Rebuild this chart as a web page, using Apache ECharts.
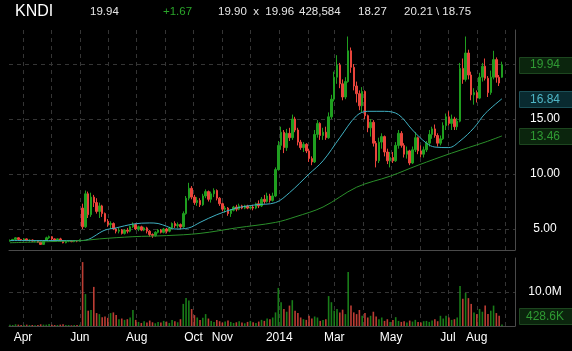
<!DOCTYPE html>
<html><head><meta charset="utf-8">
<script src="https://cdn.jsdelivr.net/npm/echarts@6/dist/echarts.min.js"></script>
<style>html,body{margin:0;padding:0;background:#000;}#c{width:572px;height:351px;}</style>
</head><body><div id="c"></div>
<script>
// ---------- DATA ----------
const axisStart = [2013, 2, 17];   // first calendar day on the axis (UTC y, m0, d)
const axisEnd = [2014, 8, 11];     // last calendar day on the axis
const candleOffsetDays = 1;        // first candle = 2013-03-18
const candleStepDays = 3;          // one candle every 3 calendar days

// [open, close, low, high]
const candles = [
[3.9,3.95,3.85,4.05],[3.95,4.05,3.9,4.1],[4.05,4.2,4.0,4.25],[4.2,4.05,4.0,4.25],[4.05,4.0,3.9,4.1],
[4.0,4.1,3.95,4.15],[4.1,3.95,3.9,4.15],[3.95,4.0,3.85,4.05],[4.0,3.9,3.85,4.05],[3.9,3.95,3.8,4.0],
[3.95,3.8,3.75,4.0],[3.8,3.6,3.55,3.85],[3.6,3.95,3.6,4.0],[3.95,4.2,3.9,4.3],[4.2,4.3,4.1,4.4],
[4.3,4.1,4.0,4.35],[4.1,4.0,3.9,4.15],[4.0,4.1,3.95,4.15],[4.1,3.95,3.85,4.2],[3.95,3.75,3.7,4.0],
[3.75,3.9,3.7,3.95],[3.9,3.95,3.8,4.0],[3.95,3.85,3.8,4.0],[3.85,3.95,3.8,4.0],[3.95,3.9,3.8,4.0],
[3.9,4.0,3.85,4.05],
[6.9,5.2,5.0,7.3],[5.2,8.2,5.1,8.5],[8.2,6.3,6.0,8.4],[6.3,7.9,6.1,8.3],[7.9,7.4,7.0,8.1],
[7.4,6.6,6.4,7.8],[6.6,7.1,6.0,7.4],[7.1,6.4,6.1,7.2],[6.4,5.7,5.6,6.5],[5.7,5.4,5.2,5.9],
[5.4,5.5,5.0,5.7],[5.5,5.0,4.9,5.6],[5.0,4.8,4.6,5.1],[4.8,4.9,4.6,5.1],[4.9,4.6,4.5,5.0],
[4.6,4.9,4.5,5.0],[4.9,4.8,4.6,5.1],[4.8,5.2,4.7,5.3],[5.2,5.4,5.1,5.6],[5.4,5.0,4.9,5.5],
[5.0,5.2,4.8,5.3],[5.2,4.9,4.8,5.3],[4.9,5.1,4.8,5.2],[5.1,4.8,4.6,5.2],[4.8,4.5,4.3,4.9],
[4.5,4.4,4.2,4.6],[4.4,4.7,4.3,4.8],[4.7,4.9,4.6,5.0],[4.9,4.7,4.6,5.0],[4.7,5.0,4.6,5.1],
[5.0,4.8,4.6,5.1],[4.8,5.1,4.7,5.2],[5.1,5.5,5.0,5.6],[5.5,5.3,5.1,5.7],[5.3,5.4,5.1,5.6],
[5.4,5.2,5.0,5.5],[5.2,6.4,5.1,6.6],[6.4,7.8,6.3,8.0],[7.8,8.7,7.6,9.2],[8.7,7.9,7.7,8.9],
[7.9,7.4,7.2,8.1],[7.4,7.6,7.1,7.9],[7.6,7.2,7.0,7.8],[7.2,8.0,7.1,8.2],[8.0,8.4,7.8,8.6],
[8.4,7.7,7.5,8.5],[7.7,8.2,7.4,8.4],[8.2,8.5,7.9,8.7],[8.5,7.8,7.6,8.6],[7.8,7.3,7.1,7.9],
[7.3,6.8,6.6,7.4],[6.8,6.9,6.5,7.1],[6.9,6.4,6.2,7.0],[6.4,6.7,6.1,6.8],[6.7,7.0,6.6,7.1],
[7.0,6.8,6.6,7.2],[6.8,7.1,6.7,7.3],[7.1,6.9,6.8,7.2],[6.9,7.1,6.8,7.2],[7.1,6.9,6.8,7.2],
[6.9,7.0,6.8,7.1],[7.0,6.9,6.7,7.2],[6.9,7.3,6.8,7.4],[7.3,7.1,6.9,7.6],[7.1,7.7,7.0,7.9],
[7.7,7.5,7.3,8.1],[7.5,8.0,7.4,8.3],[8.0,7.6,7.4,8.2],[7.6,8.0,7.5,8.3],[8.0,10.4,7.9,10.6],
[10.4,12.6,10.3,13.0],[12.6,13.8,12.2,14.3],[13.8,12.4,11.9,14.0],[12.4,13.7,12.1,14.1],[13.7,13.3,13.0,14.2],
[13.3,15.0,13.1,15.4],[15.0,14.0,13.8,15.2],[14.0,12.9,12.6,14.2],[12.9,12.4,12.2,13.1],[12.4,12.7,12.0,12.9],
[12.7,12.1,11.9,12.8],[12.1,11.4,11.1,12.3],[11.4,11.1,10.8,11.6],[11.1,13.6,11.0,14.0],[13.6,14.6,13.3,14.9],
[14.6,13.5,13.1,14.7],[13.5,13.8,13.1,14.2],[13.8,13.3,13.1,14.3],[13.3,15.2,13.2,15.6],[15.2,16.8,15.0,17.2],
[16.8,18.8,16.6,19.3],[18.8,19.9,18.2,20.8],[19.9,18.2,17.8,20.1],[18.2,17.0,16.7,18.6],[17.0,18.4,16.8,18.8],
[18.4,21.2,18.3,22.5],[21.2,19.7,19.2,21.5],[19.7,18.0,17.6,20.0],[18.0,17.3,16.5,18.4],[17.3,16.2,15.8,17.6],
[16.2,17.5,15.6,17.9],[17.5,15.3,15.0,17.6],[15.3,14.2,13.8,15.4],[14.2,14.7,13.4,15.0],[14.7,12.8,12.5,14.9],
[12.8,11.2,10.6,13.0],[11.2,12.9,11.0,13.3],[12.9,13.4,12.3,13.7],[13.4,12.0,11.6,13.5],[12.0,11.2,10.9,12.3],
[11.2,11.5,10.6,12.0],[11.5,11.2,11.0,12.0],[11.2,12.6,11.1,12.9],[12.6,13.7,12.3,14.0],[13.7,12.6,12.4,13.9],
[12.6,11.8,11.5,12.8],[11.8,12.1,11.4,12.5],[12.1,11.0,10.8,12.2],[11.0,12.2,10.9,12.5],[12.2,13.3,12.0,13.8],
[13.3,12.1,11.8,13.4],[12.1,11.8,11.5,12.6],[11.8,12.2,11.5,12.5],[12.2,12.8,12.0,13.0],[12.8,13.6,12.5,14.0],
[13.6,14.1,13.2,14.3],[14.1,13.5,13.3,14.5],[13.5,12.8,12.5,13.7],[12.8,13.2,12.6,13.5],[13.2,14.4,13.1,14.7],
[14.4,15.2,14.0,15.5],[15.2,14.6,14.4,15.7],[14.6,15.0,14.0,15.4],[15.0,14.3,14.0,15.2],[14.3,14.8,14.0,15.1],
[14.8,19.6,14.7,20.1],[19.6,18.6,18.2,20.5],[18.6,21.0,18.4,22.5],[21.0,19.0,18.6,21.3],[19.0,17.2,16.7,19.3],
[17.2,17.4,16.3,17.8],[17.4,16.9,16.5,17.6],[16.9,18.8,16.8,19.2],[18.8,19.8,18.4,20.1],[19.8,18.7,18.5,20.5],
[18.7,17.4,17.0,18.9],[17.4,18.8,17.2,19.4],[18.8,20.4,18.6,21.2],[20.4,18.8,18.3,20.6],[18.8,18.27,18.0,19.0],
[18.8,19.94,18.75,20.21]
];

// volume in millions, one per candle
const volumes = [
0.4,0.3,0.5,0.4,0.3,0.3,0.4,0.3,0.3,0.2,0.3,0.5,0.4,0.4,0.6,0.4,0.3,0.3,0.4,0.5,0.3,0.3,0.2,0.3,0.3,0.4,
18.8,9.4,4.5,4.7,11.5,3.8,3.5,2.6,2.8,2.4,3.8,4.0,3.2,2.0,2.2,1.8,2.0,2.5,4.7,1.8,
1.2,0.9,1.4,1.0,1.6,1.1,0.8,1.2,1.0,1.5,1.3,0.9,1.8,1.4,1.1,
2.0,6.5,8.2,7.5,5.0,3.2,2.5,
1.8,2.4,3.5,2.2,1.5,1.2,1.8,1.4,1.0,1.3,1.6,1.2,0.9,1.1,1.4,1.0,0.8,1.2,1.5,1.1,0.9,1.3,1.8,1.5,
2.2,2.0,2.5,
4.0,11.2,7.0,5.0,4.2,6.0,7.6,4.5,3.8,2.5,2.0,1.8,3.0,2.2,2.8,2.5,1.5,1.8,2.0,8.8,
7.0,4.5,5.0,4.0,4.8,3.5,15.9,6.0,4.0,3.5,4.7,3.0,3.8,2.5,3.0,4.2,2.8,2.0,2.5,1.5,
2.0,1.2,1.8,2.6,1.5,1.2,1.4,1.0,1.6,1.3,1.8,1.2,1.0,1.4,1.5,1.2,1.6,2.0,1.4,3.0,
2.2,3.0,2.5,1.8,2.0,2.5,11.8,8.0,9.7,8.2,6.5,4.0,3.5,5.0,4.2,6.0,3.5,4.5,6.0,3.8,
3.0,0.428584
];

// moving averages: [candle index, value]
const ma50 = [[0,3.95],[26,3.95],[34,4.9],[38,5.1],[44,5.45],[50,5.55],[53,5.5],[56,5.25],[59,5.0],[64,5.1],
[68,5.6],[74,6.3],[81,6.9],[88,7.2],[95,7.4],[100,8.3],[107,10.0],[112,11.2],[118,13.3],[124,15.3],
[128,15.7],[134,15.7],[139,15.4],[144,14.0],[149,12.8],[152,12.45],[157,12.4],[161,13.0],[166,14.2],[170,15.5],[176,16.84]];
const ma200 = [[0,3.75],[14,3.85],[26,3.95],[32,4.1],[44,4.3],[56,4.4],[68,4.6],[81,5.1],[95,5.6],[102,6.1],
[112,7.0],[124,8.8],[136,9.8],[146,10.8],[158,11.9],[170,12.9],[176,13.46]];

const labelMonths = ['2013-04','2013-06','2013-08','2013-10','2013-11','2014-01','2014-03','2014-05','2014-07','2014-08'];
const labelTexts  = ['Apr','Jun','Aug','Oct','Nov','2014','Mar','May','Jul','Aug'];
const priceTicks = [5, 10, 15];
const volumeTicks = [10];

const headerTexts = ['KNDI','19.94','+1.67','19.90  x  19.96','428,584','18.27','20.21 \\ 18.75'];
const lastClose = 19.94, lastMa50 = 16.84, lastMa200 = 13.46, lastVolumeLabel = '428.6K';

// ---------- BUILD ----------
const days = [];
for (let t = Date.UTC(...axisStart); t <= Date.UTC(...axisEnd); t += 86400000) days.push(new Date(t).toISOString().slice(0,10));
const kOf = i => candleOffsetDays + candleStepDays * i;
const UP = '#1f9e1f', DOWN = '#ea453c';
const VUP = '#1c8a1c', VDOWN = '#d0443a';
const candleData = days.map(() => '-');
const volData = days.map(() => '-');
candles.forEach((c, i) => { candleData[kOf(i)] = c; });
volumes.forEach((v, i) => {
  const c = candles[i];
  volData[kOf(i)] = { value: v, itemStyle: { color: c[1] >= c[0] ? VUP : VDOWN } };
});
const f50 = days.map(() => null), f200 = days.map(() => null);
ma50.forEach(([i, v]) => { f50[kOf(i)] = v; });
ma200.forEach(([i, v]) => { f200[kOf(i)] = v; });

const labelMap = {};
labelMonths.forEach((m, j) => labelMap[m + '-01'] = labelTexts[j]);
const isMonthStart = (idx, val) => val.slice(8) === '01';

const GRID = '#353535', AXIS = '#4a4a4a';
const FONT = 'Liberation Sans, Arial, sans-serif';
const LABEL_CX = 545;
const chart = echarts.init(document.getElementById('c'), null, { renderer: 'canvas' });

const xCommon = {
  type: 'category', data: days, boundaryGap: false,
  axisTick: { show: false },
  axisLine: { show: true, lineStyle: { color: AXIS, width: 1 } },
  splitLine: { show: true, interval: isMonthStart, lineStyle: { color: GRID, type: [4, 4], width: 1 } }
};

chart.setOption({
  animation: false,
  backgroundColor: '#000',
  grid: [
    { left: 9, right: 57, top: 30, height: 220 },
    { left: 9, right: 57, top: 258, height: 68 }
  ],
  xAxis: [
    Object.assign({}, xCommon, { gridIndex: 0, axisLabel: { show: false } }),
    Object.assign({}, xCommon, { gridIndex: 1,
      axisLabel: { show: true, interval: (idx, val) => !!labelMap[val], formatter: v => labelMap[v] || '',
        color: '#ffffff', fontSize: 12, fontFamily: FONT, margin: 6 } })
  ],
  yAxis: [
    { type: 'value', gridIndex: 0, position: 'right', min: 5 - 21/11, max: 5 + 199/11,
      splitNumber: 4, minInterval: 5, maxInterval: 5,
      axisLine: { show: true, lineStyle: { color: AXIS } }, axisTick: { show: false },
      splitLine: { show: true, showMinLine: false, showMaxLine: false, lineStyle: { color: GRID, type: [4, 4] } },
      axisLabel: { show: true, showMinLabel: false, showMaxLabel: false, margin: LABEL_CX - 515, align: 'center',
        color: '#ffffff', fontSize: 12, fontFamily: FONT, padding: [3, 0, 0, 0],
        formatter: v => priceTicks.some(t => Math.abs(t - v) < 1e-6) ? v.toFixed(2) : '' } },
    { type: 'value', gridIndex: 1, position: 'right', min: 0, max: 20, interval: 10,
      axisLine: { show: true, lineStyle: { color: AXIS } }, axisTick: { show: false },
      splitLine: { show: true, showMinLine: false, showMaxLine: false, lineStyle: { color: GRID, type: [4, 4] } },
      axisLabel: { show: true, margin: LABEL_CX - 515, align: 'center', color: '#ffffff', fontSize: 12, fontFamily: FONT,
        formatter: v => volumeTicks.some(t => Math.abs(t - v) < 1e-6) ? v.toFixed(1) + 'M' : '' } }
  ],
  series: [
    { type: 'candlestick', xAxisIndex: 0, yAxisIndex: 0, data: candleData, barWidth: 2, z: 3,
      itemStyle: { color: UP, color0: DOWN, borderColor: UP, borderColor0: DOWN, borderWidth: 1 } },
    { type: 'line', xAxisIndex: 0, yAxisIndex: 0, data: f50, connectNulls: true, smooth: 0.35, symbol: 'none', z: 4,
      lineStyle: { color: '#3fb0c2', width: 1 } },
    { type: 'line', xAxisIndex: 0, yAxisIndex: 0, data: f200, connectNulls: true, smooth: 0.35, symbol: 'none', z: 4,
      lineStyle: { color: '#2a8f2a', width: 1 } },
    { type: 'bar', xAxisIndex: 1, yAxisIndex: 1, data: volData, barWidth: 1.6, itemStyle: { opacity: 0.9 } }
  ]
});

// header + value boxes
const hx = [15, 90, 163, 218, 299, 358, 404];
const hColors = ['#ffffff', '#e6e6e6', '#2aa52a', '#e6e6e6', '#e6e6e6', '#e6e6e6', '#e6e6e6'];
const g = headerTexts.map((t, j) => ({
  type: 'text', x: hx[j], y: 12,
  style: { text: t, fill: hColors[j], font: (j === 0 ? '16px ' : '11.5px ') + FONT, verticalAlign: 'middle' }
}));
function box(cy, label, fill, stroke, color) {
  g.push({ type: 'rect', shape: { x: 519.5, y: Math.round(cy) - 7.5, width: 60, height: 16 },
    style: { fill: fill, stroke: stroke, lineWidth: 1 }, z: 10 });
  g.push({ type: 'text', x: LABEL_CX, y: cy + 0.5, z: 11,
    style: { text: label, fill: color, font: '12px ' + FONT, align: 'center', verticalAlign: 'middle' } });
}
const yP = v => chart.convertToPixel({ yAxisIndex: 0 }, v);
const yV = v => chart.convertToPixel({ yAxisIndex: 1 }, v);
box(yP(lastClose), lastClose.toFixed(2), '#0b250d', '#1d461f', '#2f9a33');
box(yP(lastMa50), lastMa50.toFixed(2), '#092a30', '#1b4f57', '#4fb6c6');
box(yP(lastMa200), lastMa200.toFixed(2), '#0b250d', '#1d461f', '#2f9a33');
box(yV(0) - 10, lastVolumeLabel, '#0b250d', '#1d461f', '#2f9a33');
chart.setOption({ graphic: g });
</script></body></html>
